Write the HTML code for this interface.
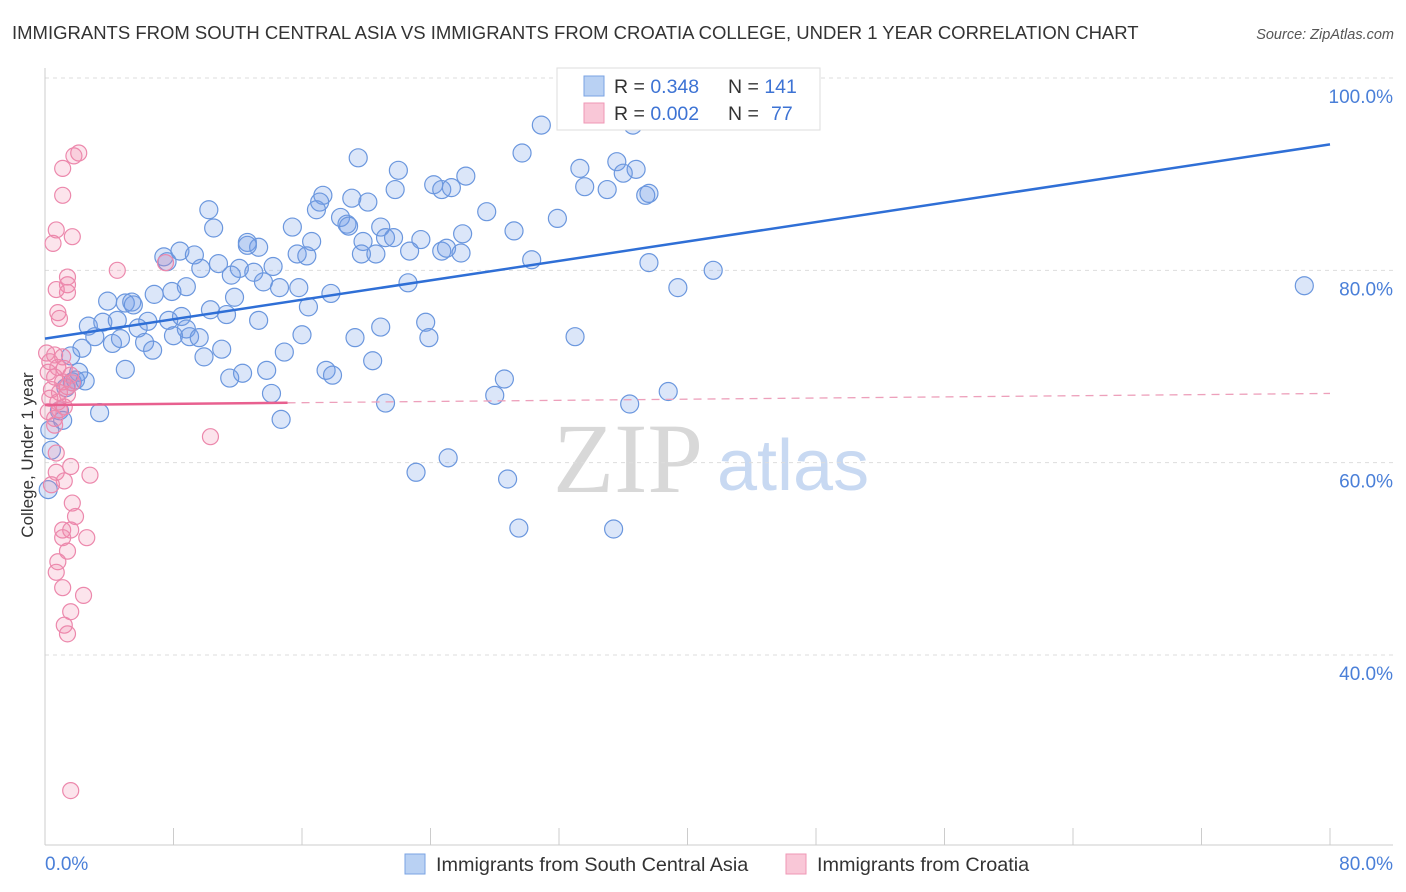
<!DOCTYPE html>
<html><head><meta charset="utf-8">
<style>
body{margin:0;background:#fff;font-family:"Liberation Sans",sans-serif;}
svg{display:block}
</style></head>
<body>
<svg id="chart" width="1406" height="892" xmlns="http://www.w3.org/2000/svg">
<text x="12" y="39" font-size="18.5" fill="#333">IMMIGRANTS FROM SOUTH CENTRAL ASIA VS IMMIGRANTS FROM CROATIA COLLEGE, UNDER 1 YEAR CORRELATION CHART</text>
<text x="1394" y="39" font-size="14.5" fill="#555" font-style="italic" text-anchor="end">Source: ZipAtlas.com</text>
<g>
<text x="553" y="492" font-family="Liberation Serif,serif" font-size="100" fill="#d8d8d8">ZIP</text>
<text x="717" y="490" font-size="72" fill="#c8d9f2">atlas</text>
</g>
<g id="grid"></g>
<g id="axes"></g>
<g id="pts"></g>
<g id="trend"></g>
<text x="33" y="455" font-size="17" fill="#333" text-anchor="middle" transform="rotate(-90 33 455)">College, Under 1 year</text>
<g>
<rect x="557" y="68" width="263" height="62" fill="#fff" stroke="#ddd"/>
<rect x="584" y="76" width="20" height="20" fill="#b9d1f3" stroke="#7aa3e3"/>
<rect x="584" y="103" width="20" height="20" fill="#f9c7d7" stroke="#ef97b6"/>
<text x="614" y="93" font-size="19.5" fill="#333">R = <tspan fill="#3d73d4">0.348</tspan><tspan x="728">N = </tspan><tspan fill="#3d73d4">141</tspan></text>
<text x="614" y="120" font-size="19.5" fill="#333">R = <tspan fill="#3d73d4">0.002</tspan><tspan x="728">N = </tspan><tspan fill="#3d73d4" x="771">77</tspan></text>
</g>
<g>
<rect x="405" y="854" width="20" height="20" fill="#b9d1f3" stroke="#7aa3e3"/>
<text x="436" y="871" font-size="19.8" fill="#333">Immigrants from South Central Asia</text>
<rect x="786" y="854" width="20" height="20" fill="#f9c7d7" stroke="#ef97b6"/>
<text x="817" y="871" font-size="19.8" fill="#333">Immigrants from Croatia</text>
</g>
</svg>
<script>
const blueX=[30.9,36.6,29.7,19.5,22.0,33.3,35.6,36.8,36.0,24.2,24.7,25.3,26.2,33.6,35.0,37.4,37.6,21.8,17.3,17.1,16.9,19.1,20.1,10.2,18.4,18.8,18.9,15.4,10.5,27.5,31.9,29.2,20.9,26.0,23.4,19.8,21.2,21.7,16.6,12.6,13.3,12.6,7.4,8.4,9.3,15.7,16.3,19.7,20.6,22.7,24.7,25.0,25.9,30.3,37.6,41.6,7.6,9.7,10.8,12.1,14.2,11.6,13.0,13.6,22.6,39.4,78.4,8.8,6.8,7.9,11.8,14.6,15.8,17.8,3.9,5.0,5.4,5.5,10.3,11.3,16.4,2.7,3.6,4.5,6.4,7.7,8.5,13.3,5.8,8.8,3.1,4.2,4.7,6.2,6.7,8.0,9.0,9.6,11.0,16.0,19.3,20.9,23.7,23.9,33.0,2.3,1.6,9.9,14.9,20.4,5.0,2.1,11.5,12.3,13.8,17.5,17.9,28.6,38.8,28.0,14.1,21.2,36.4,3.4,0.9,1.1,14.7,25.1,23.1,28.8,29.5,35.4,1.7,1.9,2.5,1.3,0.3,0.4,0.2];
const blueY=[95.1,95.1,92.2,91.7,90.4,90.6,91.3,90.5,90.1,88.9,88.4,88.6,89.8,88.7,88.4,87.8,88.0,88.4,87.8,87.1,86.3,87.5,87.1,86.3,85.5,84.8,84.6,84.5,84.4,86.1,85.4,84.1,84.5,83.8,83.2,83.0,83.4,83.4,83.0,82.9,82.4,82.6,81.4,82.0,81.6,81.7,81.5,81.7,81.7,82.0,82.0,82.3,81.8,81.1,80.8,80.0,80.9,80.2,80.7,80.2,80.4,79.5,79.8,78.8,78.7,78.2,78.4,78.3,77.5,77.8,77.2,78.2,78.2,77.6,76.8,76.6,76.7,76.4,75.9,75.4,76.2,74.2,74.6,74.8,74.7,74.8,75.2,74.8,74.0,73.9,73.1,72.4,72.9,72.5,71.7,73.2,73.1,73.0,71.8,73.3,73.0,74.1,74.6,73.0,73.1,71.9,71.1,71.0,71.5,70.6,69.7,69.4,68.8,69.3,69.6,69.6,69.1,68.7,67.4,67.0,67.2,66.2,66.1,65.2,65.4,64.4,64.5,60.5,59.0,58.3,53.2,53.1,68.4,68.6,68.5,67.8,63.4,61.3,57.2];
const pinkX=[2.1,1.8,1.1,1.1,0.7,1.7,0.5,4.5,7.5,1.4,1.4,0.7,1.4,0.8,0.9,0.1,0.6,1.1,0.3,0.8,1.2,0.2,0.6,1.6,1.1,1.7,1.4,0.4,0.9,1.4,0.3,0.8,1.2,0.2,0.6,0.9,0.6,10.3,0.7,1.6,0.7,2.8,1.2,0.4,1.7,1.9,1.1,1.6,2.6,1.1,1.4,0.8,0.7,1.1,2.4,1.6,1.2,1.4,1.6];
const pinkY=[92.2,91.9,90.6,87.8,84.2,83.5,82.8,80.0,80.8,79.3,78.5,78.0,77.7,75.6,75.0,71.4,71.2,71.0,70.5,69.9,69.8,69.4,68.9,69.1,68.4,68.3,67.9,67.6,67.3,67.1,66.7,66.3,65.8,65.3,64.6,65.5,63.9,62.7,61.0,59.6,59.0,58.7,58.1,57.7,55.8,54.4,53.0,53.0,52.2,52.2,50.8,49.7,48.6,47.0,46.2,44.5,43.1,42.2,25.9];
const yTicks=[100,80,60,40];
const yTickLabels=["100.0%","80.0%","60.0%","40.0%"];
const xTickValues=[0,8,16,24,32,40,48,56,64,72,80];
const blueTrend=[72.9,93.1];
const pinkTrend=[66.0,67.2];
const pinkSolidEnd=15.1;

const NS="http://www.w3.org/2000/svg";
const X0=45,X1=1330,YT=78,YB=845;
const sx=v=>X0+(v/80)*(X1-X0);
const sy=v=>YT+(100-v)*((655-YT)/60);
function mk(tag,attrs,parent){const e=document.createElementNS(NS,tag);for(const k in attrs)e.setAttribute(k,attrs[k]);parent.appendChild(e);return e;}
const grid=document.getElementById('grid'),axes=document.getElementById('axes'),pts=document.getElementById('pts'),trend=document.getElementById('trend');
yTicks.forEach((t,i)=>{
  const l=mk('line',{x1:X0,x2:1393,y1:sy(t),y2:sy(t),stroke:'#ddd','stroke-dasharray':'4,4'},grid);
  
  
  const tx=mk('text',{x:1393,y:sy(t)+25,'font-size':19,fill:'#4a7fd8','text-anchor':'end'},axes);
  tx.textContent=yTickLabels[i];
  
  
});
const ya=mk('line',{x1:X0,x2:X0,y1:68,y2:YB,stroke:'#ccc'},axes);


const xa=mk('line',{x1:X0,x2:1393,y1:YB,y2:YB,stroke:'#ccc'},axes);


xTickValues.forEach(v=>{
  const t=mk('line',{x1:sx(v),x2:sx(v),y1:828,y2:YB,stroke:'#ccc'},axes);
  
  
});
const xl0=mk('text',{x:45,y:870,'font-size':19,fill:'#4a7fd8'},axes);xl0.textContent='0.0%';


const xl1=mk('text',{x:1393,y:870,'font-size':19,fill:'#4a7fd8','text-anchor':'end'},axes);xl1.textContent='80.0%';


blueX.forEach((x,i)=>{
  const c=mk('circle',{cx:sx(x),cy:sy(blueY[i]),r:9,fill:'rgba(110,155,230,0.25)',stroke:'#6b97de','stroke-width':1.2},pts);
  
  
});
pinkX.forEach((x,i)=>{
  const c=mk('circle',{cx:sx(x),cy:sy(pinkY[i]),r:8,fill:'rgba(240,130,170,0.22)',stroke:'#ec88ac','stroke-width':1.2},pts);
  
  
});
const bl=mk('line',{x1:sx(0),y1:sy(blueTrend[0]),x2:sx(80),y2:sy(blueTrend[1]),stroke:'#2f6fd6','stroke-width':2.5},trend);


const pAt=x=>pinkTrend[0]+(pinkTrend[1]-pinkTrend[0])*x/80;
const ps=mk('line',{x1:sx(0),y1:sy(pinkTrend[0]),x2:sx(pinkSolidEnd),y2:sy(pAt(pinkSolidEnd)),stroke:'#e8608f','stroke-width':2.5},trend);


const pd=mk('line',{x1:sx(pinkSolidEnd),y1:sy(pAt(pinkSolidEnd)),x2:sx(80),y2:sy(pinkTrend[1]),stroke:'#eda0bb','stroke-width':1.3,'stroke-dasharray':'8,6'},trend);


</script>
</body></html>
